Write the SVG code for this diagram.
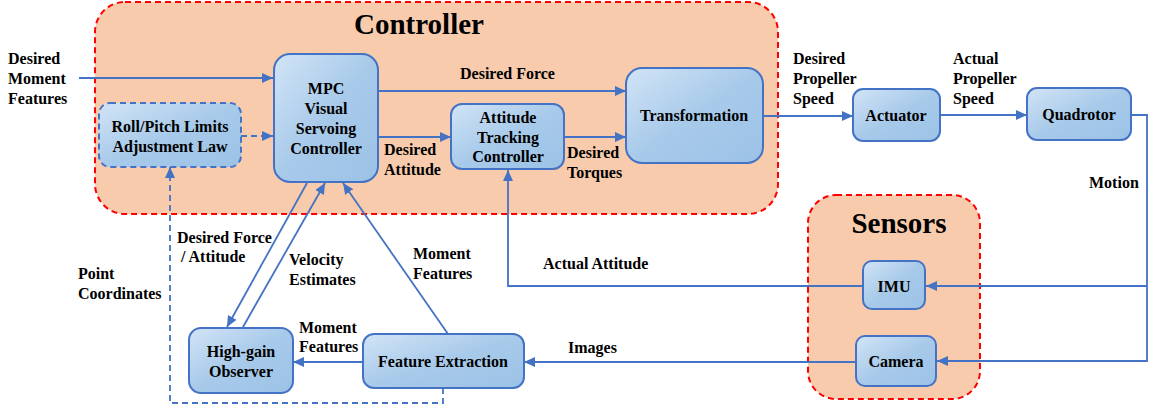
<svg xmlns="http://www.w3.org/2000/svg" width="1153" height="408" viewBox="0 0 1153 408">
<style>
.grp{fill:#F8CBAD;stroke:#FF0000;stroke-width:2;stroke-dasharray:6 4}
.node{fill:url(#g);stroke:#4472C4;stroke-width:2}
.dash{stroke-dasharray:6 4}
.t{font-family:"Liberation Serif","Times New Roman",serif;font-weight:bold;font-size:16px;fill:#000}
.c{text-anchor:middle}
.title{font-family:"Liberation Serif","Times New Roman",serif;font-weight:bold;font-size:29px;fill:#000;text-anchor:middle}
.ln{fill:none;stroke:#4472C4;stroke-width:1.8}
</style>
<defs>
<linearGradient id="g" x1="0" y1="0" x2="1" y2="1">
<stop offset="0" stop-color="#D2E4F6"/>
<stop offset="0.5" stop-color="#A8CAEA"/>
<stop offset="1" stop-color="#9BC2E6"/>
</linearGradient>
<marker id="a" markerUnits="userSpaceOnUse" markerWidth="12" markerHeight="10" refX="11" refY="5" orient="auto">
<path d="M0,0 L11,5 L0,10 Z" fill="#4472C4"/>
</marker>
</defs>

<g id="controller-group">
<rect class="grp" x="95" y="2" width="683" height="212" rx="30"/>
<text class="title" x="419" y="34">Controller</text>
</g>
<g id="sensors-group">
<rect class="grp" x="808" y="195" width="172" height="204" rx="28"/>
<text class="title" x="899" y="233">Sensors</text>
</g>

<g id="connectors">
<path class="ln" d="M79,78 L273,78" marker-end="url(#a)"/>
<path class="ln dash" d="M241,136 L273,136" marker-end="url(#a)"/>
<path class="ln" d="M378,91 L626,91" marker-end="url(#a)"/>
<path class="ln" d="M378,137 L451,137" marker-end="url(#a)"/>
<path class="ln" d="M564,137 L626,137" marker-end="url(#a)"/>
<path class="ln" d="M763,116 L853,116" marker-end="url(#a)"/>
<path class="ln" d="M940,115 L1027,115" marker-end="url(#a)"/>
<path class="ln" d="M1131,115 L1147,115 L1147,361 L937,361" marker-end="url(#a)"/>
<path class="ln" d="M1147,286 L926,286" marker-end="url(#a)"/>
<path class="ln" d="M863,286 L508,286 L508,170" marker-end="url(#a)"/>
<path class="ln" d="M856,362 L524,362" marker-end="url(#a)"/>
<path class="ln" d="M363,362 L293,362" marker-end="url(#a)"/>
<path class="ln" d="M307,183 L227,327" marker-end="url(#a)"/>
<path class="ln" d="M243,327 L325,183" marker-end="url(#a)"/>
<path class="ln" d="M448,334 L343,183" marker-end="url(#a)"/>
<path class="ln dash" d="M443,388 L443,403 L170,403 L170,167" marker-end="url(#a)"/>

<text class="t" x="8" y="64">Desired</text>
<text class="t" x="8" y="84">Moment</text>
<text class="t" x="8" y="104">Features</text>
<text class="t" x="460" y="79">Desired Force</text>
<text class="t" x="384" y="155">Desired</text>
<text class="t" x="384" y="175">Attitude</text>
<text class="t" x="567" y="158">Desired</text>
<text class="t" x="567" y="178">Torques</text>
<text class="t" x="793" y="64">Desired</text>
<text class="t" x="793" y="84">Propeller</text>
<text class="t" x="793" y="104">Speed</text>
<text class="t" x="953" y="64">Actual</text>
<text class="t" x="953" y="84">Propeller</text>
<text class="t" x="953" y="104">Speed</text>
<text class="t" x="1089" y="188">Motion</text>
<text class="t" x="543" y="269">Actual Attitude</text>
<text class="t" x="568" y="353">Images</text>
<text class="t" x="177" y="243">Desired Force</text>
<text class="t" x="181" y="262">/ Attitude</text>
<text class="t" x="289" y="265">Velocity</text>
<text class="t" x="289" y="285">Estimates</text>
<text class="t" x="413" y="259">Moment</text>
<text class="t" x="413" y="279">Features</text>
<text class="t" x="78" y="279">Point</text>
<text class="t" x="78" y="299">Coordinates</text>
<text class="t" x="299" y="333">Moment</text>
<text class="t" x="299" y="352">Features</text>
</g>

<g id="mpc">
<rect class="node" x="274" y="54" width="104" height="128" rx="16"/>
<text class="t c" x="326" y="94">MPC</text>
<text class="t c" x="326" y="114">Visual</text>
<text class="t c" x="326" y="134">Servoing</text>
<text class="t c" x="326" y="154">Controller</text>
</g>
<g id="roll-pitch">
<rect class="node dash" x="99" y="103" width="142" height="64" rx="11"/>
<text class="t c" x="170" y="132">Roll/Pitch Limits</text>
<text class="t c" x="170" y="152">Adjustment Law</text>
</g>
<g id="attitude">
<rect class="node" x="451" y="104" width="113" height="65" rx="11"/>
<text class="t c" x="508" y="123">Attitude</text>
<text class="t c" x="508" y="143">Tracking</text>
<text class="t c" x="508" y="162">Controller</text>
</g>
<g id="transformation">
<rect class="node" x="626" y="68" width="137" height="95" rx="16"/>
<text class="t c" x="694" y="121">Transformation</text>
</g>
<g id="actuator">
<rect class="node" x="853" y="89" width="87" height="52" rx="10"/>
<text class="t c" x="896" y="121">Actuator</text>
</g>
<g id="quadrotor">
<rect class="node" x="1027" y="88" width="104" height="52" rx="10"/>
<text class="t c" x="1079" y="120">Quadrotor</text>
</g>
<g id="imu">
<rect class="node" x="863" y="261" width="62" height="48" rx="9"/>
<text class="t c" x="894" y="292">IMU</text>
</g>
<g id="camera">
<rect class="node" x="856" y="336" width="80" height="50" rx="9"/>
<text class="t c" x="896" y="367">Camera</text>
</g>
<g id="feature-extraction">
<rect class="node" x="363" y="334" width="161" height="54" rx="11"/>
<text class="t c" x="443" y="367">Feature Extraction</text>
</g>
<g id="high-gain">
<rect class="node" x="189" y="328" width="104" height="65" rx="12"/>
<text class="t c" x="241" y="357">High-gain</text>
<text class="t c" x="241" y="377">Observer</text>
</g>
</svg>
